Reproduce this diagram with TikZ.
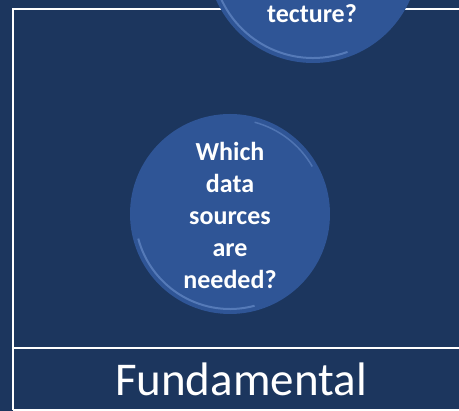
\documentclass[tikz,border=0pt]{standalone}
\usepackage{fontspec}
\setmainfont{Carlito}
\usepackage{tikz}
\usetikzlibrary{calc}

\definecolor{navy}{HTML}{1C365E}
\definecolor{ballblue}{HTML}{2F5596}
\definecolor{ballrim}{HTML}{6F93CF}

\tikzset{
  ball/.style={circle,fill=ballblue,draw=none,minimum size=#1,inner sep=0pt},
  balltext/.style={text=white,align=center,font=\bfseries\fontsize{26}{32}\selectfont},
  frameline/.style={draw=white,line width=1.5pt}
}

\begin{document}
\begin{tikzpicture}[x=1pt,y=1pt]
        % background, 459 x 411
        \fill[navy] (0,0) rectangle (459,411);
        \useasboundingbox (0,0) rectangle (459,411);

        \coordinate (TL) at (13,402);
        \coordinate (TR) at (470,402);
        \coordinate (BL) at (13,1);
        \coordinate (BR) at (470,1);
        \coordinate (ML) at (13,63);
        \coordinate (MR) at (470,63);

        \draw[frameline] (BL) -- (TL) -- (TR); % outer frame
        \draw[frameline] (BL) -- (BR);
        \draw[frameline] (ML) -- (MR); % divider above the title

        % upper question, cut by the page edge
        \node[ball=212pt] (archball) at (313,454) {};
        \draw[ballrim,line width=2pt,opacity=0.6] ($(archball.center)+(200:101)$) arc[start angle=200,end angle=290,radius=101];
        \node[balltext,anchor=base] (archtext) at (312,388) {tecture?};

        % middle question
        \node[ball=200pt] (databall) at (230,197) {};
        \draw[ballrim,line width=2pt,opacity=0.6] ($(databall.center)+(195:95)$) arc[start angle=195,end angle=285,radius=95];
        \draw[ballrim,line width=1.5pt,opacity=0.5] ($(databall.center)+(30:95)$) arc[start angle=30,end angle=75,radius=95];
        \node[balltext] (datatext) at (230,196) {Which\\data\\sources\\are\\needed?};

        % title
        \node[text=white,anchor=base,font=\fontsize{47}{54}\selectfont] (title) at (241,15) {Fundamental};
\end{tikzpicture}
\end{document}
